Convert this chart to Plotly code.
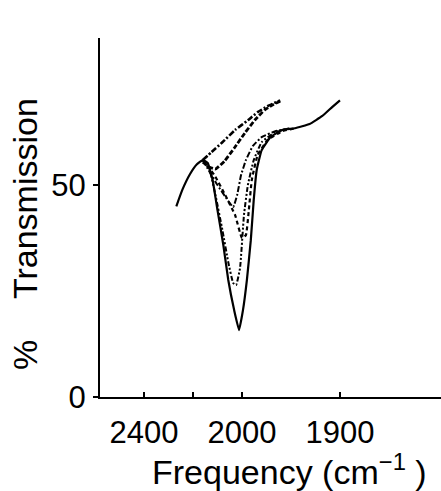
import plotly.graph_objects as go

# Solid curve (deepest band)
solid_f = [2067, 2061, 2053, 2046, 2040, 2035, 2030, 2025, 2019, 2014, 2008, 2003,
           1999, 1995, 1991, 1988, 1985, 1980, 1971, 1959, 1946, 1931, 1918, 1908, 1900]
solid_t = [45.0, 48.8, 52.6, 54.9, 55.9, 55.2, 51.2, 44.1, 35.8, 27.6, 20.5, 15.8,
           20.5, 27.6, 37.0, 46.5, 53.5, 58.2, 61.3, 63.0, 63.4, 64.4, 66.3, 68.4, 70.0]

# Dash-dot-dot curve (min ~26)
d1_f = [2040, 2033, 2027, 2020, 2014, 2009, 2006, 2002, 1998, 1994, 1988, 1980, 1966, 1951]
d1_t = [55.9, 53.5, 47.6, 39.4, 31.8, 26.9, 26.4, 30.4, 42.9, 50.0, 55.9, 60.1, 62.5, 63.4]

# Dashed curve (min ~37)
d3_f = [2040, 2028, 2017, 2007, 2000, 1996, 1993, 1990, 1984, 1974, 1959, 1946]
d3_t = [55.9, 52.3, 47.6, 42.9, 37.5, 38.2, 44.1, 51.2, 57.1, 60.6, 62.7, 63.4]

# Dash-dot V curve (min ~45)
v_f = [2040, 2033, 2025, 2016, 2009, 2005, 2001, 1996, 1989, 1980, 1966, 1951]
v_t = [55.9, 53.1, 50.0, 46.9, 44.8, 47.6, 52.3, 55.9, 59.2, 61.3, 62.7, 63.4]

# Upper dash-dot curve
u1_f = [2040, 2031, 2020, 2007, 1994, 1984, 1974, 1961]
u1_t = [55.9, 57.8, 60.1, 63.0, 65.3, 67.2, 68.6, 70.0]

# Upper dashed curve
u2_f = [2040, 2033, 2027, 2018, 2008, 1997, 1987, 1977, 1969, 1961]
u2_t = [55.4, 54.2, 53.8, 55.6, 58.7, 62.3, 65.3, 67.7, 68.9, 69.8]

x_tickvals = [2100, 2050, 2000, 1900]
x_ticktext = ["2400", "", "2000", "1900"]
y_tickvals = [0, 50]
y_ticktext = ["0", "50"]

fig = go.Figure()
series = [
    (solid_f, solid_t, "solid", 2.2),
    (d1_f, d1_t, "5px,2px,2px,2px,2px,2px", 2.0),
    (d3_f, d3_t, "4px,3px", 2.2),
    (v_f, v_t, "6px,2px,2px,2px", 2.0),
    (u1_f, u1_t, "6px,2px,2px,2px", 2.6),
    (u2_f, u2_t, "5px,2px", 2.8),
]
for xs, ys, dash, w in series:
    fig.add_trace(go.Scatter(x=xs, y=ys, mode="lines",
                             line=dict(color="black", width=w, dash=dash, shape="spline", smoothing=0.35),
                             showlegend=False, hoverinfo="skip"))

font = "Liberation Sans, Arial, sans-serif"
fig.update_layout(
    width=441, height=491,
    margin=dict(l=100, r=0, t=38, b=94),
    plot_bgcolor="white", paper_bgcolor="white",
    font=dict(family=font, color="black", size=31),
    xaxis=dict(range=[2144.9, 1796.9], showgrid=False, zeroline=False,
               showline=True, linecolor="black", linewidth=2,
               ticks="inside", ticklen=5, tickwidth=2, tickcolor="black",
               tickvals=x_tickvals, ticktext=x_ticktext,
               tickfont=dict(size=31), ticklabelstandoff=7),
    yaxis=dict(range=[0, 84.7], showgrid=False, zeroline=False,
               showline=True, linecolor="black", linewidth=2,
               ticks="outside", ticklen=5, tickwidth=2, tickcolor="black",
               tickvals=y_tickvals, ticktext=y_ticktext,
               tickfont=dict(size=31), ticklabelstandoff=1),
    annotations=[
        dict(text="Frequency (cm<sup>−1</sup> )", xref="paper", yref="paper",
             x=0.557, y=-0.203, showarrow=False, xanchor="center", yanchor="middle",
             font=dict(size=34)),
        dict(text="Transmission", xref="paper", yref="paper",
             x=-0.22, y=0.554, showarrow=False, xanchor="center", yanchor="middle",
             textangle=-90, font=dict(size=34)),
        dict(text="%", xref="paper", yref="paper",
             x=-0.22, y=0.117, showarrow=False, xanchor="center", yanchor="middle",
             textangle=-90, font=dict(size=34)),
    ],
)

fig.write_html("out.html")
